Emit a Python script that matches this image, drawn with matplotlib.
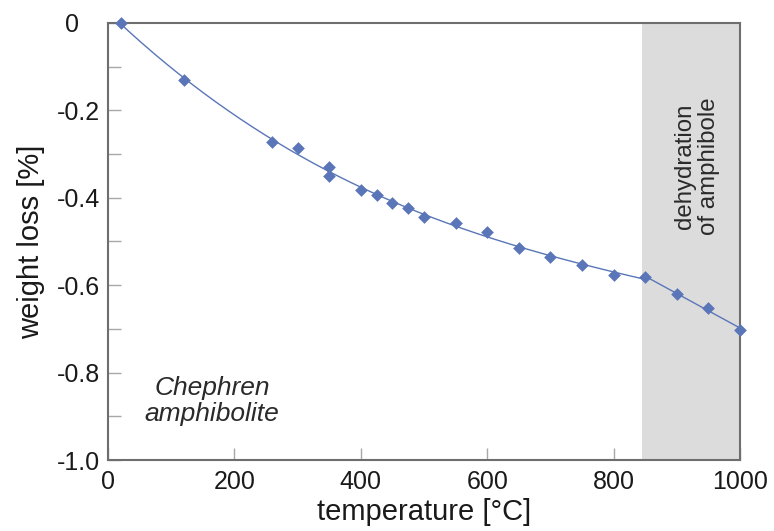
import numpy as np
import matplotlib
matplotlib.use("Agg")
import matplotlib.pyplot as plt
from matplotlib.transforms import ScaledTranslation

# data
temperature = [20, 120, 260, 300, 350, 350, 400, 425, 450, 475, 500, 550, 600,
               650, 700, 750, 800, 850, 900, 950, 1000]
weight_loss = [0.0, -0.130, -0.272, -0.286, -0.330, -0.350, -0.382, -0.393, -0.413,
               -0.423, -0.444, -0.458, -0.478, -0.515, -0.535, -0.554, -0.576,
               -0.581, -0.620, -0.652, -0.702]
dehydration_start = 845
x_ticks = [0, 200, 400, 600, 800, 1000]
y_ticks = [0, -0.2, -0.4, -0.6, -0.8, -1.0]
y_tick_labels = ["0", "-0.2", "-0.4", "-0.6", "-0.8", "-1.0"]

plt.rcParams['font.family'] = ['Liberation Sans', 'DejaVu Sans']

fig = plt.figure(figsize=(7.74, 5.31), dpi=100)
ax = fig.add_axes([108/774, 1-460/531, (740-108)/774, (460-23)/531])

blue = '#5a76b8'
x = np.array(temperature, dtype=float)
y = np.array(weight_loss, dtype=float)

# trend lines: smooth fit below dehydration, linear above
m1 = x <= 850
c1 = np.polyfit(x[m1], y[m1], 3)
xs1 = np.linspace(x[m1].min(), 850, 300)
ax.plot(xs1, np.polyval(c1, xs1), color=blue, lw=1.0, zorder=3)
m2 = x >= 850
c2 = np.polyfit(x[m2], y[m2], 1)
xs2 = np.linspace(850, 1000, 50)
ax.plot(xs2, np.polyval(c2, xs2), color=blue, lw=1.0, zorder=3)

ax.scatter(x, y, marker='D', s=42, color=blue, zorder=4, clip_on=False, linewidths=0)

ax.axvspan(dehydration_start, 1000, color='#dcdcdc', zorder=0, lw=0)

ax.set_xlim(0, 1000)
ax.set_ylim(-1.0, 0)
ax.set_xticks(x_ticks)
ax.set_yticks(y_ticks)
ax.set_yticklabels(y_tick_labels)
ax.set_yticks(np.arange(-0.9, 0, 0.2), minor=True)

for s in ax.spines.values():
    s.set_color('#6e6e6e')
    s.set_linewidth(1.5)

ax.tick_params(axis='both', which='both', direction='in', length=9, width=1.0,
               color='#a8a8a8', labelsize=18, labelcolor='#1a1a1a')
ax.tick_params(axis='x', pad=7)
ax.tick_params(axis='y', pad=6)

# decimal-align the "0" label
lbl0 = ax.get_yticklabels()[0]
lbl0.set_transform(lbl0.get_transform() + ScaledTranslation(-0.21, 0, fig.dpi_scale_trans))

ax.set_xlabel('temperature [°C]', fontsize=21, color='#1a1a1a', labelpad=3)
ax.set_ylabel('weight loss [%]', fontsize=21, color='#1a1a1a', labelpad=8)

ax.text(165, -0.865, 'Chephren\namphibolite', style='italic', fontsize=19,
        ha='center', va='center', color='#2a2a2a', linespacing=1.1)
ax.text(932, -0.327, 'dehydration\nof amphibole', rotation=90, fontsize=17.3,
        ha='center', va='center', color='#2a2a2a', linespacing=1.15)

fig.savefig('out.png', dpi=100)
